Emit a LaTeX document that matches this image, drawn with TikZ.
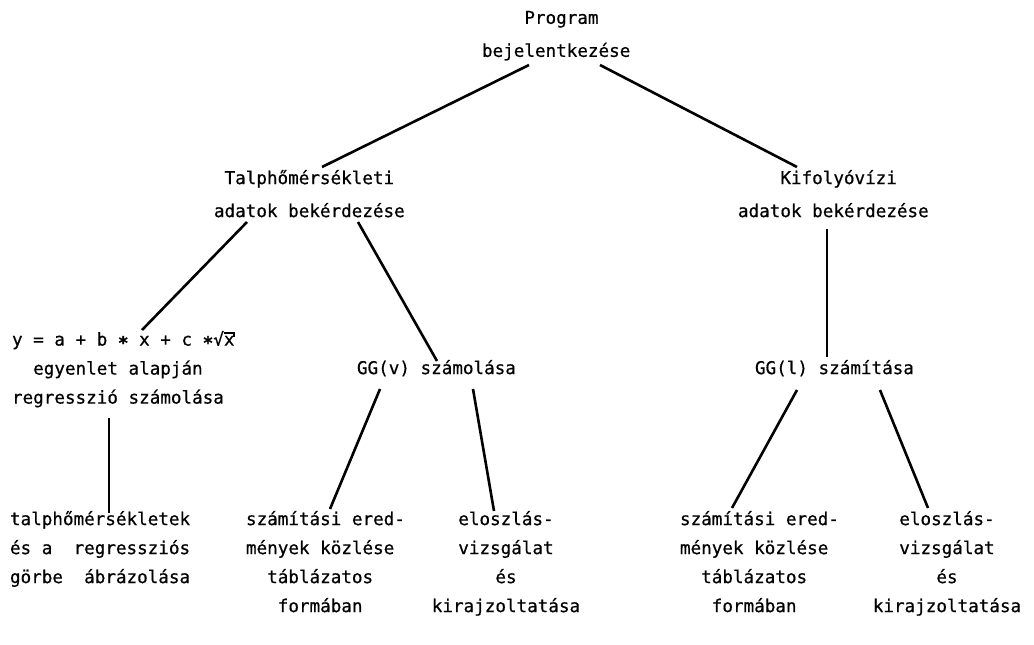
\documentclass[tikz,border=0pt]{standalone}
\usepackage{fontspec}
\newfontfamily\dmono[FakeBold=0.6]{DejaVu Sans Mono}
\usetikzlibrary{calc}
\newcommand\fs{\rule{0pt}{14pt}}
\newcommand\mstar{\raisebox{-3.5pt}{\bfseries *}}
\newcommand\ind[1]{\hphantom{#1}}
\newcommand\sqx{\char"221A\makebox[0pt][l]{\rule[12pt]{9.5pt}{1.4pt}\rule[8.5pt]{1.4pt}{4.9pt}}x}
\begin{document}
\begin{tikzpicture}[x=1pt,y=-1pt,
  lbl/.style={inner sep=0pt, outer sep=0pt, anchor=north west, align=left,
    font=\dmono\fontsize{17.6pt}{29pt}\selectfont, execute at begin node=\fs},
  lblc/.style={lbl, anchor=north, align=center},
  toplbl/.style={lbl, font=\dmono\fontsize{17.6pt}{33pt}\selectfont},
  eqlbl/.style={lbl, font=\dmono\fontsize{17.6pt}{29pt}\selectfont},
  conn/.style={line width=2.6pt, black}]
\useasboundingbox (0,0) rectangle (1034,645);
% level 0
\node[toplbl] (prog) at (482,11) {\ind{0000}Program\\bejelentkezése};
% level 1
\node[toplbl] (talph) at (214,170) {\ind{0}Talphőmérsékleti\\adatok bekérdezése};
\node[toplbl] (kif) at (738,170) {\ind{0000}Kifolyóvízi\\adatok bekérdezése};
% level 2
\node[eqlbl] (eqn) at (12,331) {y = a + b \mstar{} x + c \mstar\sqx\\\ind{00}egyenlet alapján\\regresszió számolása};
\node[lbl] (ggv) at (357,360) {GG(v) számolása};
\node[lbl] (ggl) at (755,360) {GG(l) számítása};
% level 3
\node[lbl] (tph) at (10,511) {talphőmérsékletek\\és a\ \ regressziós\\görbe\ \ ábrázolása};
\node[lbl] (szv) at (246,511) {számítási ered-\\mények közlése\\\ind{00}táblázatos\\\ind{000}formában};
\node[lblc] (elv) at (506,511) {eloszlás-\\vizsgálat\\és\\kirajzoltatása};
\node[lbl] (szk) at (680,511) {számítási ered-\\mények közlése\\\ind{00}táblázatos\\\ind{000}formában};
\node[lblc] (elk) at (947,511) {eloszlás-\\vizsgálat\\és\\kirajzoltatása};
% connectors
\draw[conn] ($(prog.north west)+(47,54)$) -- ($(talph.north west)+(108,-3)$);
\draw[conn] ($(prog.north west)+(118,54)$) -- ($(kif.north west)+(59,-3)$);
\draw[conn] ($(talph.north west)+(33,52)$) -- ($(eqn.north west)+(130,-1)$);
\draw[conn] ($(talph.north west)+(144,52)$) -- ($(ggv.north west)+(80,1)$);
\draw[conn] ($(eqn.north west)+(97,87)$) -- ($(tph.north west)+(99,2)$);
\draw[conn] ($(kif.north west)+(89,59)$) -- ($(ggl.north west)+(72,-3)$);
\draw[conn] ($(ggv.north west)+(23,29)$) -- ($(szv.north west)+(84,-2)$);
\draw[conn] ($(ggv.north west)+(116,29)$) -- ($(elv.north)+(-12,0)$);
\draw[conn] ($(ggl.north west)+(42,30)$) -- ($(szk.north west)+(52,-3)$);
\draw[conn] ($(ggl.north west)+(125,30)$) -- ($(elk.north)+(-19,-3)$);
\end{tikzpicture}
\end{document}
